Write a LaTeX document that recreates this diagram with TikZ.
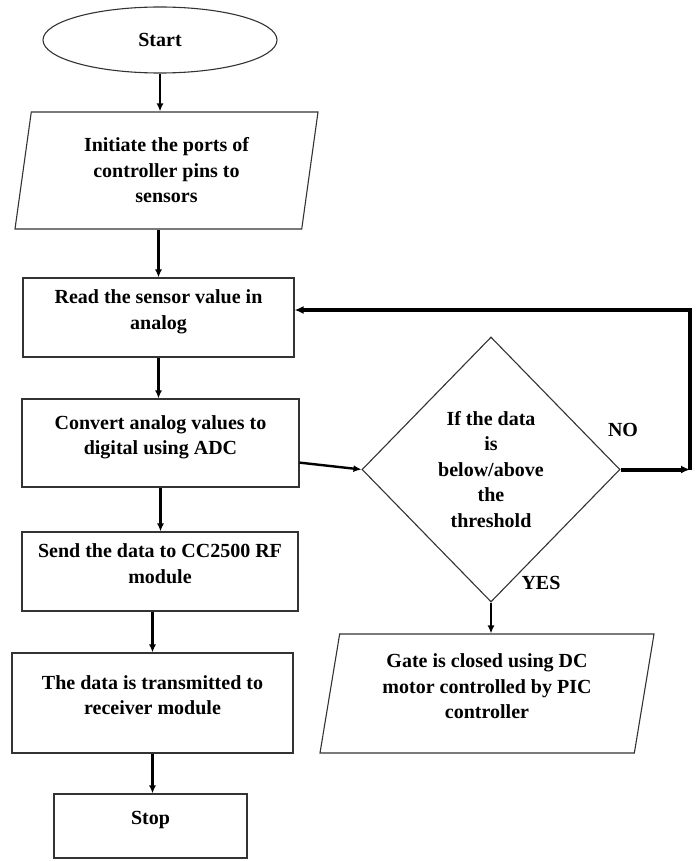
\documentclass[tikz,border=0pt]{standalone}
\usepackage{fontspec}
\setmainfont{Liberation Serif}
\usetikzlibrary{shapes.geometric,arrows.meta,calc}

\tikzset{
  every node/.style={font=\bfseries\fontsize{20}{25.5}\selectfont, align=center, inner sep=0pt},
  procbox/.style={draw=black!80, line width=1.1pt, rectangle, text depth=16pt},
  iobox/.style={draw=black!80, line width=1.1pt, trapezium, trapezium left angle=76,
    trapezium right angle=104, trapezium stretches body},
  termbox/.style={draw=black!80, line width=1.1pt, ellipse},
  decbox/.style={draw=black!80, line width=1.1pt, diamond},
  flow/.style={-{Latex[length=8pt,width=7pt]}, line width=2.4pt},
  loopflow/.style={-{Latex[length=9pt,width=8pt]}, line width=4pt},
}

\begin{document}
\begin{tikzpicture}[x=1pt,y=-1pt]
  \useasboundingbox (0,0) rectangle (699,861);
  \node [termbox, minimum width=234, minimum height=66] (start) at (160,40) {Start};
  \node [iobox, minimum width=303, minimum height=117] (init) at (166.5,170.5) {Initiate the ports of\\controller pins to\\sensors};
  \node [procbox, minimum width=271, minimum height=79] (read) at (158.5,317.5) {Read the sensor value in\\analog};
  \node [procbox, minimum width=277, minimum height=88] (conv) at (160.5,443) {Convert analog values to\\digital using ADC};
  \node [procbox, minimum width=276, minimum height=79] (send) at (160,571.5) {Send the data to CC2500 RF\\module};
  \node [procbox, minimum width=281, minimum height=100] (trans) at (152.5,703) {The data is transmitted to\\receiver module};
  \node [procbox, minimum width=193, minimum height=64] (stop) at (150.5,826) {Stop};
  \node [decbox, minimum width=258, minimum height=265] (dec) at (491,469.5) {If the data\\is\\below/above\\the\\threshold};
  \node [iobox, minimum width=334, minimum height=119, text depth=14pt] (gate) at (487,693.5) {Gate is closed using DC\\motor controlled by PIC\\controller};
  \node (no) at (623,430) {NO};
  \node (yes) at (541,583) {YES};
  \coordinate (noend) at (690,469.5);
  \coordinate (backtop) at (690,310);

  \draw[flow] (start.south) -- (start.south |- init.north);
  \draw[flow] (read.north |- init.south) -- (read.north);
  \draw[flow] (read.south) -- (read.south |- conv.north);
  \draw[flow] (conv.south) -- (conv.south |- send.north);
  \draw[flow] (trans.north |- send.south) -- (trans.north);
  \draw[flow] (trans.south) -- (trans.south |- stop.north);
  \draw[flow] ($(conv.north east)!0.72!(conv.south east)$) -- (dec.west);
  \draw[loopflow] (dec.east) -- (noend);
  \draw[loopflow] (noend) -- (backtop) -- (backtop -| read.east);
  \draw[flow] (dec.south) -- (dec.south |- gate.north);
\end{tikzpicture}
\end{document}
